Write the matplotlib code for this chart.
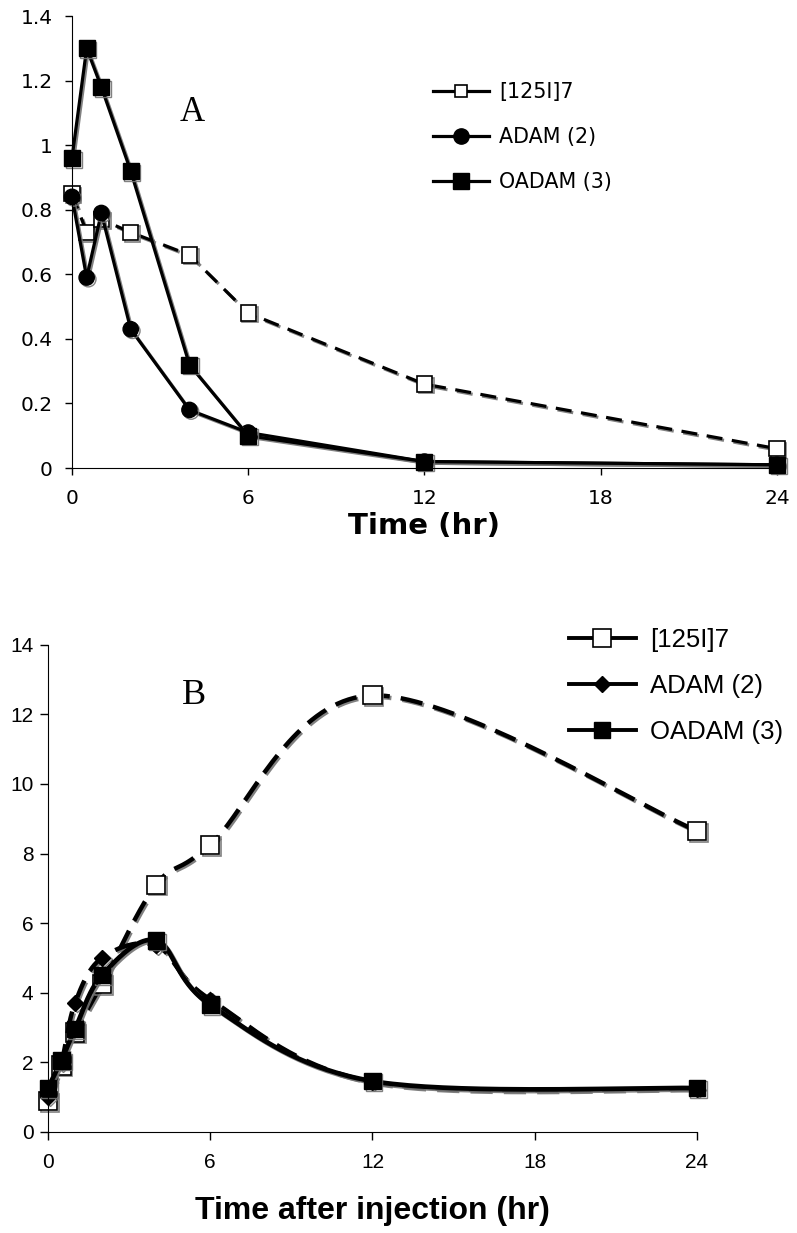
import numpy as np
import matplotlib
matplotlib.use("Agg")
import matplotlib.pyplot as plt
import matplotlib.patheffects as pe
from matplotlib.lines import Line2D

# ---- data ----
labels = ["[125I]7", "ADAM (2)", "OADAM (3)"]

# panel A
time_a = [0, 0.5, 1, 2, 4, 6, 12, 24]
i7_a = [0.85, 0.73, 0.77, 0.73, 0.66, 0.48, 0.26, 0.06]
adam_a = [0.84, 0.59, 0.79, 0.43, 0.18, 0.11, 0.02, 0.01]
oadam_a = [0.96, 1.30, 1.18, 0.92, 0.32, 0.10, 0.02, 0.01]

# panel B
time_b = [0, 0.5, 1, 2, 4, 6, 12, 24]
i7_b = [0.88, 1.9, 2.85, 4.25, 7.1, 8.25, 12.55, 8.65]
adam_b = [1.0, 2.0, 3.7, 5.0, 5.35, 3.8, 1.43, 1.23]
oadam_b = [1.25, 2.05, 2.95, 4.5, 5.5, 3.65, 1.45, 1.25]

xticks = [0, 6, 12, 18, 24]


def smooth(x, y, sx, sy, n=40):
    # Excel-style smoothed line (Catmull-Rom bezier), computed in screen-like scale
    p = np.column_stack([np.asarray(x, float) * sx, np.asarray(y, float) * sy])
    pts = [p[0]] + list(p) + [p[-1]]
    out = []
    t = np.linspace(0, 1, n)[:, None]
    for i in range(1, len(pts) - 2):
        p0, p1, p2, p3 = pts[i - 1], pts[i], pts[i + 1], pts[i + 2]
        c1 = p1 + (p2 - p0) / 6
        c2 = p2 - (p3 - p1) / 6
        seg = ((1 - t) ** 3) * p1 + 3 * ((1 - t) ** 2) * t * c1 + 3 * (1 - t) * t ** 2 * c2 + t ** 3 * p2
        out.append(seg if i == 1 else seg[1:])
    out = np.vstack(out)
    return out[:, 0] / sx, out[:, 1] / sy


shadow = [pe.SimpleLineShadow(offset=(1.2, -1.2), shadow_color="0.45", alpha=0.9), pe.Normal()]

fig = plt.figure(figsize=(7.97, 12.33), dpi=100)

# ================= panel A =================
axA = fig.add_axes([0.0903, 0.6204, 0.8846, 0.3666])
vf = "DejaVu Sans"

axA.plot(time_a, i7_a, color="black", lw=2.3, ls=(0, (5, 3)), marker="s", ms=11,
         mfc="white", mec="black", mew=1.2, clip_on=False, path_effects=shadow)
axA.plot(time_a, adam_a, color="black", lw=2.3, marker="o", ms=11,
         mfc="black", mec="black", clip_on=False, path_effects=shadow)
axA.plot(time_a, oadam_a, color="black", lw=2.3, marker="s", ms=11.5,
         mfc="black", mec="black", clip_on=False, path_effects=shadow)

axA.set_xlim(0, 24)
axA.set_ylim(0, 1.4)
axA.set_xticks(xticks)
axA.set_yticks([0, 0.2, 0.4, 0.6, 0.8, 1, 1.2, 1.4])
axA.set_yticklabels(["0", "0.2", "0.4", "0.6", "0.8", "1", "1.2", "1.4"])
for s in ["top", "right"]:
    axA.spines[s].set_visible(False)
axA.tick_params(axis="both", direction="out", length=5, width=1, labelsize=14.5)
axA.tick_params(axis="x", pad=10)
axA.tick_params(axis="y", pad=9)
for t in axA.get_xticklabels() + axA.get_yticklabels():
    t.set_fontfamily(vf)
axA.set_xlabel("Time (hr)", fontsize=21, fontweight="bold", family=vf, labelpad=3)
axA.text(4.1, 1.1, "A", family="Liberation Serif", fontsize=25, ha="center", va="center")

hA = [
    Line2D([], [], color="black", lw=2.3, marker="s", ms=8, mfc="white", mec="black", mew=1.2),
    Line2D([], [], color="black", lw=2.3, marker="o", ms=11, mfc="black", mec="black"),
    Line2D([], [], color="black", lw=2.3, marker="s", ms=11, mfc="black", mec="black"),
]
axA.legend(hA, labels, loc="center left", bbox_to_anchor=(433 / 797, 1 - 137 / 1233),
           bbox_transform=fig.transFigure, frameon=False, borderaxespad=0, borderpad=0,
           prop={"family": vf, "size": 14.9}, handlelength=2.7, handletextpad=0.5,
           labelspacing=1.2)

# ================= panel B =================
axB = fig.add_axes([0.0602, 0.0823, 0.8143, 0.3946])
af = "Liberation Sans"
sx, sy = 27.04, 34.75

xs, ys = smooth(time_b, i7_b, sx, sy)
axB.plot(xs, ys, color="black", lw=3.2, ls=(0, (5, 2.5)), clip_on=False, path_effects=shadow)
axB.plot(time_b, i7_b, ls="none", marker="s", ms=13, mfc="white", mec="black", mew=1.2,
         clip_on=False, path_effects=shadow)

xs, ys = smooth(time_b, adam_b, sx, sy)
axB.plot(xs, ys, color="black", lw=3.2, ls=(0, (5, 2.5)), clip_on=False, path_effects=shadow)
axB.plot(time_b, adam_b, ls="none", marker="D", ms=8, mfc="black", mec="black",
         clip_on=False, path_effects=shadow)

xs, ys = smooth(time_b, oadam_b, sx, sy)
axB.plot(xs, ys, color="black", lw=3.4, clip_on=False, path_effects=shadow)
axB.plot(time_b, oadam_b, ls="none", marker="s", ms=12, mfc="black", mec="black",
         clip_on=False, path_effects=shadow)

axB.set_xlim(0, 24)
axB.set_ylim(0, 14)
axB.set_xticks(xticks)
axB.set_yticks(range(0, 15, 2))
for s in ["top", "right"]:
    axB.spines[s].set_visible(False)
axB.tick_params(axis="both", direction="out", length=5.5, width=1, labelsize=15)
axB.tick_params(axis="x", pad=10)
axB.tick_params(axis="y", pad=5)
for t in axB.get_xticklabels() + axB.get_yticklabels():
    t.set_fontfamily(af)
axB.set_xlabel("Time after injection (hr)", fontsize=23, fontweight="bold", family=af, labelpad=17)
axB.text(5.4, 12.56, "B", family="Liberation Serif", fontsize=26, ha="center", va="center")

hB = [
    Line2D([], [], color="black", lw=2.8, marker="s", ms=13, mfc="white", mec="black", mew=1.2),
    Line2D([], [], color="black", lw=2.8, marker="D", ms=8, mfc="black", mec="black"),
    Line2D([], [], color="black", lw=2.8, marker="s", ms=11, mfc="black", mec="black"),
]
axB.legend(hB, labels, loc="center left", bbox_to_anchor=(569 / 797, 1 - 686 / 1233),
           bbox_transform=fig.transFigure, frameon=False, borderaxespad=0, borderpad=0,
           prop={"family": af, "size": 18.5}, handlelength=2.6, handletextpad=0.55,
           labelspacing=0.85)

fig.savefig("out.png", dpi=100)
